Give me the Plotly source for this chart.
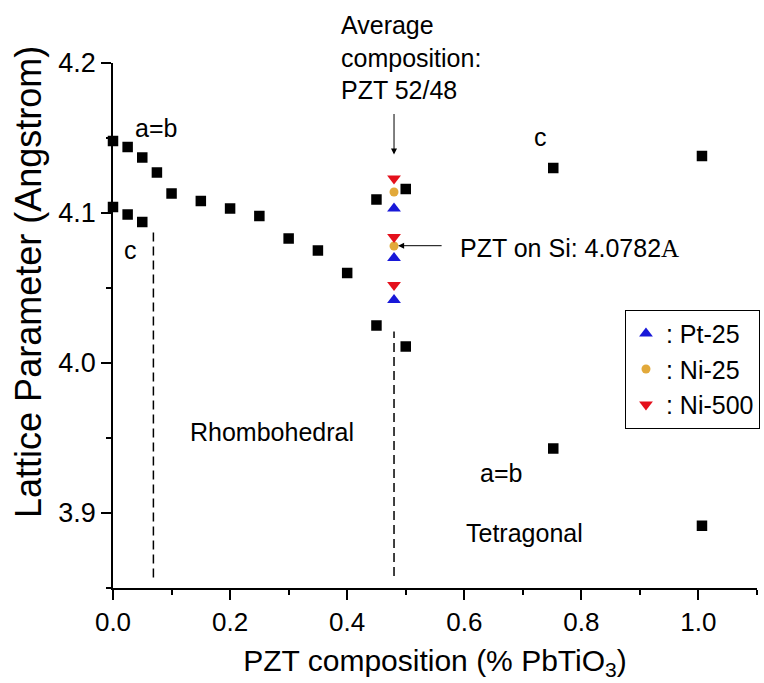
import plotly.graph_objects as go

# ---------------- data ----------------
# Rhombohedral a=b
rh_ab_x = [0.0, 0.025, 0.05, 0.075, 0.1, 0.15, 0.2, 0.25, 0.3, 0.35, 0.4]
rh_ab_y = [4.148, 4.144, 4.137, 4.127, 4.113, 4.108, 4.103, 4.098, 4.083, 4.075, 4.060]
# Rhombohedral c
rh_c_x = [0.0, 0.025, 0.05]
rh_c_y = [4.104, 4.099, 4.094]
# Near morphotropic boundary
mpb_x = [0.45, 0.45]
mpb_y = [4.109, 4.025]
# Tetragonal c
te_c_x = [0.5, 0.752, 1.006]
te_c_y = [4.116, 4.130, 4.138]
# Tetragonal a=b
te_a_x = [0.5, 0.752, 1.006]
te_a_y = [4.011, 3.943, 3.8915]

# Thin films at PZT 52/48
film_x = 0.48
pt25_y = [4.103, 4.070, 4.042]
ni25_y = [4.114, 4.078]
ni500_y = [4.123, 4.084, 4.052]

si_ref = 4.0782
boundary_1 = dict(x=0.069, y0=3.857, y1=4.087)
boundary_2 = dict(x=0.48, y0=3.858, y1=4.021)

FONT = "Arial, Liberation Sans, sans-serif"

fig = go.Figure()

sq = dict(symbol="square", size=10.5, color="black")
for xs, ys in [(rh_ab_x, rh_ab_y), (rh_c_x, rh_c_y), (mpb_x, mpb_y),
               (te_c_x, te_c_y), (te_a_x, te_a_y)]:
    fig.add_trace(go.Scatter(x=xs, y=ys, mode="markers", marker=sq,
                             showlegend=False, cliponaxis=False, hoverinfo="x+y"))

fig.add_trace(go.Scatter(x=[film_x]*len(pt25_y), y=pt25_y, mode="markers",
                         name=": Pt-25",
                         marker=dict(symbol="triangle-up", size=12, color="#1818D8"),
                         cliponaxis=False))
fig.add_trace(go.Scatter(x=[film_x]*len(ni25_y), y=ni25_y, mode="markers",
                         name=": Ni-25",
                         marker=dict(symbol="circle", size=9, color="#E2A93A"),
                         cliponaxis=False))
fig.add_trace(go.Scatter(x=[film_x]*len(ni500_y), y=ni500_y, mode="markers",
                         name=": Ni-500",
                         marker=dict(symbol="triangle-down", size=12, color="#E4101C"),
                         cliponaxis=False))

# dashed phase boundaries
for b in (boundary_1, boundary_2):
    fig.add_shape(type="line", xref="x", yref="y", x0=b["x"], x1=b["x"],
                  y0=b["y0"], y1=b["y1"],
                  line=dict(color="black", width=1.5, dash="9px,5px"))

tf = dict(family=FONT, size=25, color="black")
ann = [
    dict(x=0.034, y=4.157, text="a=b", xanchor="left", yanchor="middle"),
    dict(x=0.03, y=4.0755, text="c", xanchor="center", yanchor="middle"),
    dict(x=0.73, y=4.1508, text="c", xanchor="center", yanchor="middle"),
    dict(x=0.271, y=3.954, text="Rhombohedral", xanchor="center", yanchor="middle"),
    dict(x=0.662, y=3.927, text="a=b", xanchor="center", yanchor="middle"),
    dict(x=0.703, y=3.887, text="Tetragonal", xanchor="center", yanchor="middle"),
    dict(x=0.59, y=4.077,
         text="PZT on Si: 4.0782<span style=\"font-family:Liberation Serif,serif\">A</span>",
         xanchor="left", yanchor="middle"),
]
for a in ann:
    fig.add_annotation(xref="x", yref="y", showarrow=False, font=tf, **a)

# text above the plot area
fig.add_annotation(xref="x", yref="paper", x=0.386, y=1.0114,
                   text="Average<br>composition:<br>PZT 52/48",
                   xanchor="left", yanchor="middle", align="left",
                   showarrow=False, font=tf)

# y-axis title
fig.add_annotation(xref="paper", yref="paper", x=-0.1304, y=0.583,
                   text="Lattice Parameter (Angstrom)", textangle=-90,
                   xanchor="center", yanchor="middle", showarrow=False,
                   font=dict(family=FONT, size=36, color="black"))

# arrows
fig.add_annotation(xref="x", yref="y", x=0.48, y=4.139, text="", showarrow=True,
                   axref="pixel", ayref="pixel", ax=0, ay=-42,
                   arrowhead=2, arrowsize=1.2, arrowwidth=1, arrowcolor="black")
fig.add_annotation(xref="x", yref="y", x=0.487, y=si_ref, text="", showarrow=True,
                   ax=45, ay=0,
                   arrowhead=2, arrowsize=1.2, arrowwidth=1, arrowcolor="black")

axis_common = dict(showline=True, linecolor="black", linewidth=1.5,
                   ticks="outside", ticklen=10, tickwidth=1.5, tickcolor="black",
                   showgrid=False, zeroline=False, mirror=False,
                   tickformat=".1f")

fig.update_xaxes(range=[0, 1.1], dtick=0.2, tick0=0,
                 tickfont=dict(family=FONT, size=26, color="black"),
                 minor=dict(dtick=0.1, tick0=0, ticks="outside", ticklen=5,
                            tickwidth=1.5, tickcolor="black", showgrid=False),
                 title=dict(text="PZT composition (% PbTiO<sub>3</sub>)",
                            font=dict(family=FONT, size=30, color="black"),
                            standoff=14),
                 **axis_common)
fig.update_yaxes(range=[3.85, 4.2], dtick=0.1, tick0=3.9,
                 tickfont=dict(family=FONT, size=27, color="black"),
                 minor=dict(dtick=0.05, tick0=3.9, ticks="outside", ticklen=5,
                            tickwidth=1.5, tickcolor="black", showgrid=False),
                 **axis_common)

fig.update_layout(
    width=764, height=683,
    margin=dict(l=113, r=7, t=63, b=95, autoexpand=False),
    paper_bgcolor="white", plot_bgcolor="white",
    font=dict(family=FONT, color="black"),
    legend=dict(x=0.795, y=0.53, xanchor="left", yanchor="top",
                bordercolor="black", borderwidth=1, bgcolor="white",
                font=dict(family=FONT, size=25, color="black"),
                tracegroupgap=0, itemwidth=30),
)

fig.write_html("out.html")
